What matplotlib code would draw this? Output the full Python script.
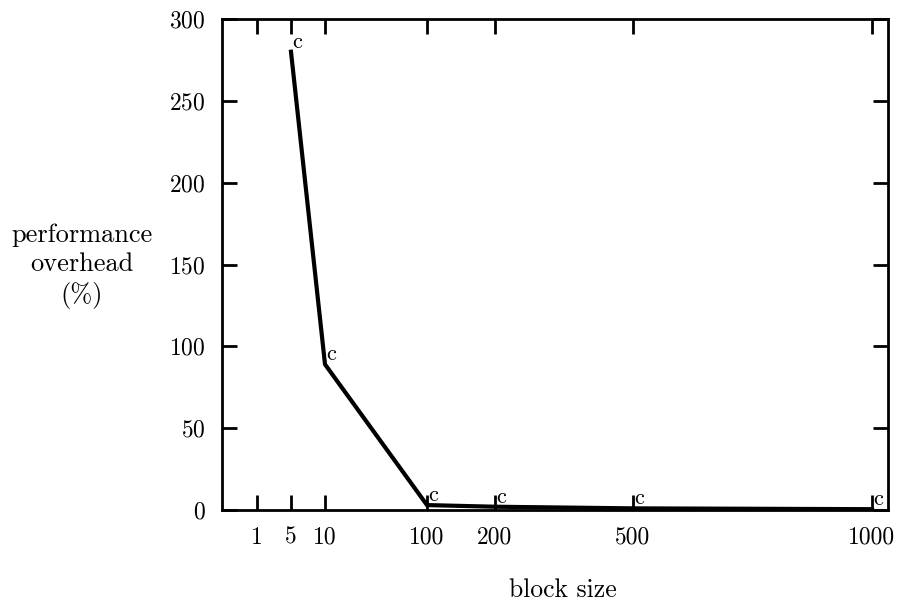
import matplotlib

matplotlib.use("Agg")

import matplotlib.pyplot as plt

# data
block_sizes = [5, 10, 100, 200, 500, 1000]
overhead = [280, 89, 3, 2, 1, 0.5]

tick_labels = ["1", "5", "10", "100", "200", "500", "1000"]
y_ticks = [0, 50, 100, 150, 200, 250, 300]

# the x axis is not a true scale: each block size sits at a fixed spot
tick_pos = [35, 69, 103, 205, 273, 411, 650]
pos_of = dict(zip([int(t) for t in tick_labels], tick_pos))

plt.rcParams["font.family"] = "cmr10"
plt.rcParams["axes.formatter.use_mathtext"] = True
plt.rcParams["mathtext.fontset"] = "cm"

fig = plt.figure(figsize=(9.04, 6.11), dpi=100)
ax = fig.add_axes([222 / 904, 1 - 510 / 611, 666 / 904, 491 / 611])

xs = [pos_of[b] for b in block_sizes]
ax.plot(xs, overhead, color="black", linewidth=3, solid_joinstyle="miter")
for x, y in zip(xs, overhead):
    ax.text(x + 1, y, "c", fontsize=16, ha="left", va="bottom")

ax.set_xlim(0, 666)
ax.set_ylim(0, 300)
ax.set_xticks(tick_pos)
ax.set_xticklabels(tick_labels)
ax.set_yticks(y_ticks)

ax.tick_params(direction="in", length=11, width=2, labelsize=17,
               top=True, right=True, pad=12)
for sp in ax.spines.values():
    sp.set_linewidth(2)

fig.text(82 / 904, 1 - 266 / 611, "performance\noverhead\n(%)",
         fontsize=19, ha="center", va="center", linespacing=1.3)
fig.text(563 / 904, 1 - 590 / 611, "block size", fontsize=18.5,
         ha="center", va="center")

fig.savefig("out.png", dpi=100)
plt.close(fig)
